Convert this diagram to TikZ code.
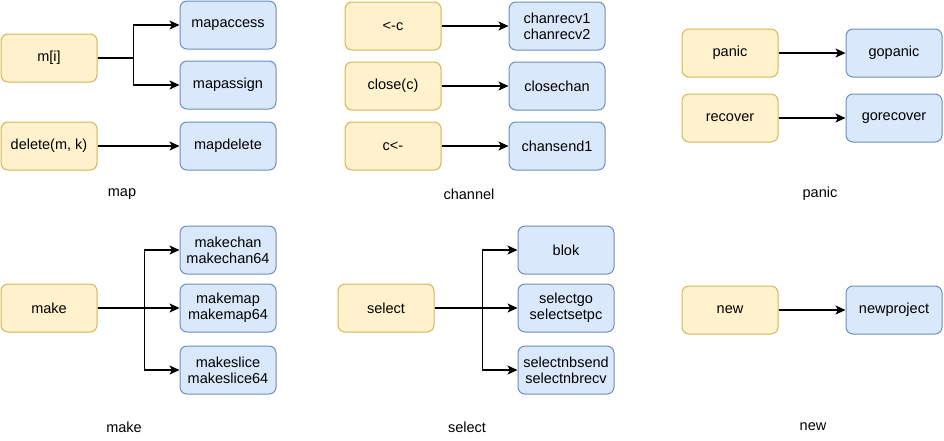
\documentclass[tikz,border=0pt]{standalone}
\usepackage{fontspec}
\setmainfont{Liberation Sans}
\usetikzlibrary{arrows.meta}
\definecolor{srcfill}{HTML}{FFF2CC}
\definecolor{srcline}{HTML}{D6B656}
\definecolor{rtfill}{HTML}{DAE8FC}
\definecolor{rtline}{HTML}{6C8EBF}

\begin{document}
\begin{tikzpicture}[x=1pt, y=-1pt, font=\fontsize{14.5}{16}\selectfont,
  src/.style={draw=srcline, fill=srcfill, rounded corners=7pt, line width=1pt,
    minimum width=96pt, minimum height=48pt, inner sep=0pt, align=center},
  rt/.style={src, draw=rtline, fill=rtfill},
  e/.style={-{Stealth[length=10pt, width=9pt, inset=2.5pt]}, line width=1.2pt},
  gl/.style={inner sep=0pt}]
\useasboundingbox (0,0) rectangle (944,440);
% map
\node[src] (mi) at (49,58) {m[i]};
\node[src] (del) at (49,146) {delete(m, k)};
\node[rt] (acc) at (228,25) {mapaccess};
\node[rt] (asg) at (228,85) {mapassign};
\node[rt] (mdel) at (228,146) {mapdelete};
\node[gl] (lmap) at (122,194) {map};
\draw[e] (mi.east) -- ++(36,0) |- (acc.west);
\draw[e] (mi.east) -- ++(36,0) |- (asg.west);
\draw[e] (del) -- (mdel);
% channel
\node[src] (rcv) at (393,26) {<-c};
\node[src] (cls) at (393,86) {close(c)};
\node[src] (snd) at (393,146) {c<-};
\node[rt] (crcv) at (557,26) {chanrecv1\\chanrecv2};
\node[rt] (ccls) at (557,86) {closechan};
\node[rt] (csnd) at (557,146) {chansend1};
\node[gl] (lchan) at (469,194) {channel};
\draw[e] (rcv) -- (crcv);
\draw[e] (cls) -- (ccls);
\draw[e] (snd) -- (csnd);
% panic
\node[src] (pan) at (730,53) {panic};
\node[src] (rec) at (730,118) {recover};
\node[rt] (gpan) at (894,53) {gopanic};
\node[rt] (grec) at (894,118) {gorecover};
\node[gl] (lpan) at (820,194) {panic};
\draw[e] (pan) -- (gpan);
\draw[e] (rec) -- (grec);
% make
\node[src] (mk) at (49,308) {make};
\node[rt] (mch) at (228,250) {makechan\\makechan64};
\node[rt] (mmp) at (228,308) {makemap\\makemap64};
\node[rt] (msl) at (228,370) {makeslice\\makeslice64};
\node[gl] (lmk) at (124,427) {make};
\draw[e] (mk.east) -- ++(47,0) |- (mch.west);
\draw[e] (mk) -- (mmp);
\draw[e] (mk.east) -- ++(47,0) |- (msl.west);
% select
\node[src] (sel) at (386,308) {select};
\node[rt] (blk) at (566,250) {blok};
\node[rt] (sgo) at (566,308) {selectgo\\selectsetpc};
\node[rt] (snb) at (566,370) {selectnbsend\\selectnbrecv};
\node[gl] (lsel) at (467,427) {select};
\draw[e] (sel.east) -- ++(48,0) |- (blk.west);
\draw[e] (sel) -- (sgo);
\draw[e] (sel.east) -- ++(48,0) |- (snb.west);
% new
\node[src] (nw) at (730,310) {new};
\node[rt] (nproj) at (894,310) {newproject};
\node[gl] (lnew) at (813,427) {new};
\draw[e] (nw) -- (nproj);
\end{tikzpicture}
\end{document}
